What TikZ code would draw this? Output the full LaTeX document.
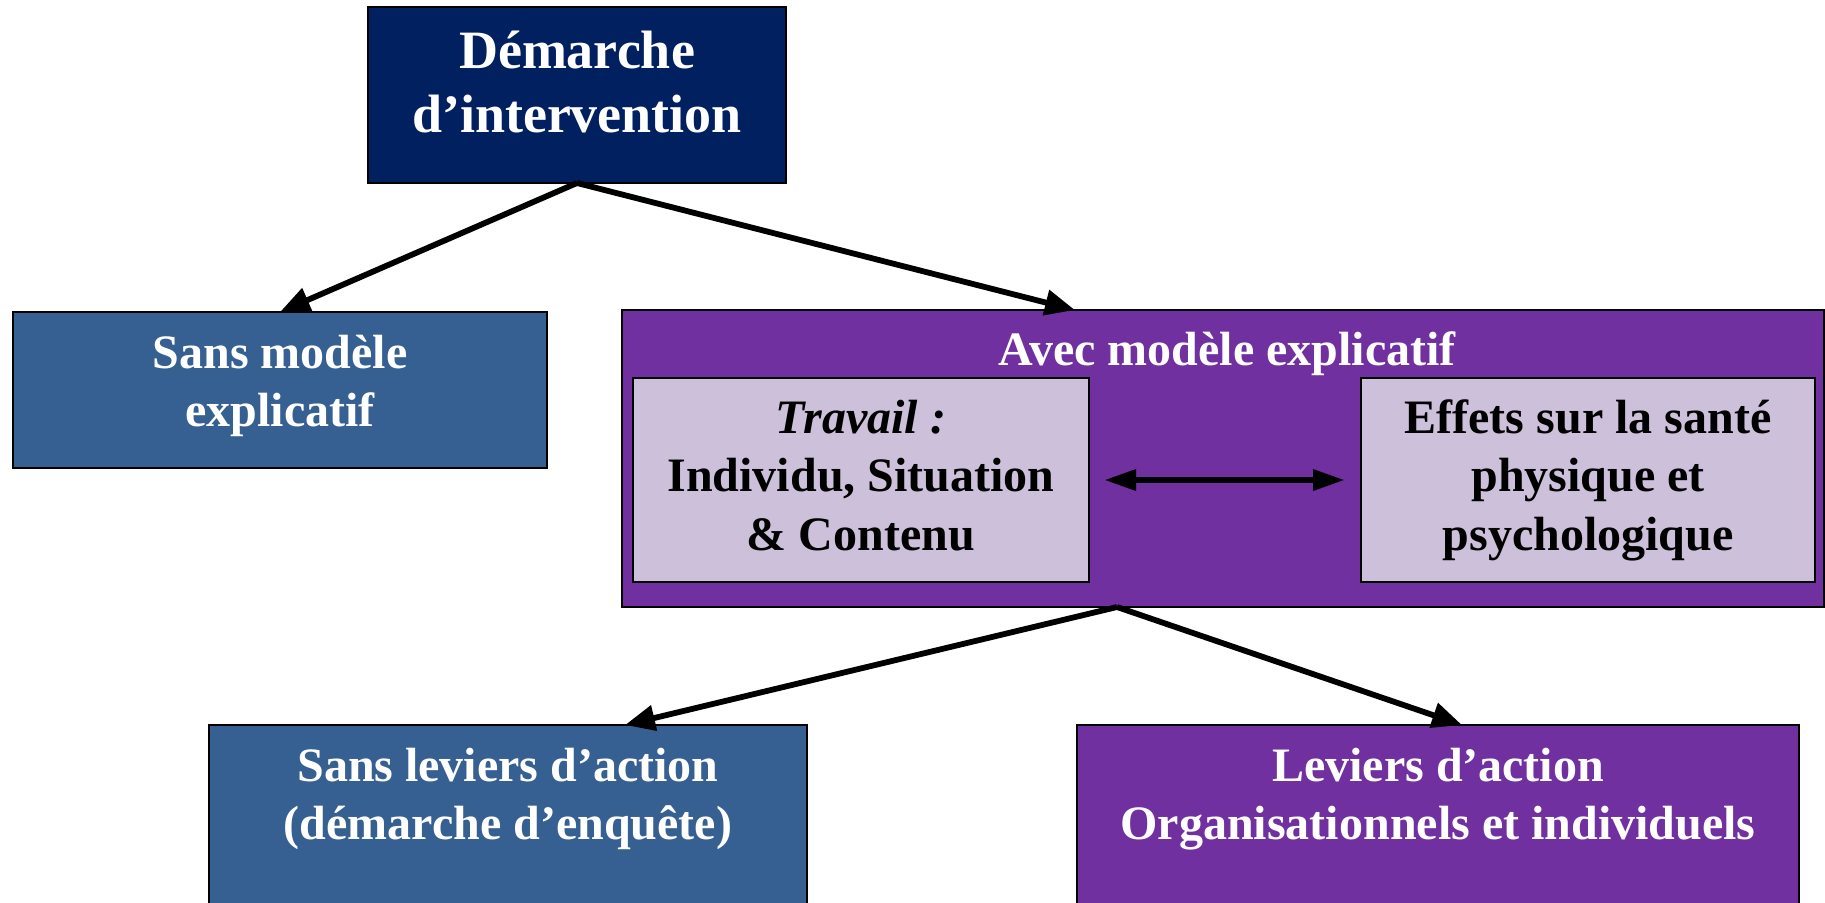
\documentclass[tikz,border=0pt]{standalone}
\usepackage{fontspec}
\setmainfont{Liberation Serif}
\usetikzlibrary{arrows.meta}
\definecolor{navy}{RGB}{0,32,96}
\definecolor{steel}{RGB}{55,96,146}
\definecolor{violetbox}{RGB}{112,48,160}
\definecolor{lav}{RGB}{204,192,218}
\newcommand{\mlines}[1]{\begin{tabular}[t]{@{}c@{}}#1\end{tabular}}
\begin{document}
\begin{tikzpicture}[x=0.5pt,y=-0.5pt,
  box/.style={draw=black,line width=1pt,inner sep=0pt,outer sep=0pt},
  txt/.style={inner sep=0pt,outer sep=0pt,anchor=base,font=\bfseries\fontsize{24}{29.25}\selectfont},
  arr/.style={line width=2.9pt,-{Triangle[length=15pt,width=12.5pt]}},
  dbl/.style={line width=3.2pt,{Triangle[length=16pt,width=10pt]}-{Triangle[length=16pt,width=10pt]}}]
\useasboundingbox (0,0) rectangle (1825,902);
% boxes
\node[box,fill=navy,minimum width=209pt,minimum height=88pt] (top) at (577,95) {};
\node[box,fill=steel,minimum width=267pt,minimum height=78pt] (sans) at (280,390) {};
\node[box,fill=violetbox,minimum width=601pt,minimum height=148.5pt] (avec) at (1223,458.5) {};
\node[box,fill=lav,minimum width=228pt,minimum height=102pt] (travail) at (861,480) {};
\node[box,fill=lav,minimum width=227pt,minimum height=102pt] (effets) at (1588,480) {};
\node[box,fill=steel,minimum width=299pt,minimum height=93.5pt] (sanslev) at (508,818.5) {};
\node[box,fill=violetbox,minimum width=361pt,minimum height=93.5pt] (leviers) at (1438,818.5) {};
% texts
\node[txt,text=white,font=\bfseries\fontsize{27}{32}\selectfont] (ttop) at (577,68) {\mlines{Démarche\\d’intervention}};
\node[txt,text=white] (tsans) at (280,368) {\mlines{Sans modèle\\explicatif}};
\node[txt,text=white] (tavec) at (1227,365) {Avec modèle explicatif};
\node[txt,text=black] (ttravail) at (861,433) {\mlines{\textit{Travail :}\\Individu, Situation\\\& Contenu}};
\node[txt,text=black] (teffets) at (1588,433) {\mlines{Effets sur la santé\\physique et\\psychologique}};
\node[txt,text=white] (tsanslev) at (508,781) {\mlines{Sans leviers d’action\\(démarche d’enquête)}};
\node[txt,text=white] (tleviers) at (1438,781) {\mlines{Leviers d’action\\Organisationnels et individuels}};
% connector ends
\coordinate (avecin) at (1075,310);
\coordinate (avecout) at (1117,607);
\coordinate (sanslevin) at (625,725);
\coordinate (leviersin) at (1462,725);
% connectors
\draw[arr] (top.south) -- (sans.north);
\draw[arr] (top.south) -- (avecin);
\draw[arr] (avecout) -- (sanslevin);
\draw[arr] (avecout) -- (leviersin);
\draw[dbl,shorten <=7.5pt,shorten >=8pt] (travail.east) -- (effets.west);
\end{tikzpicture}
\end{document}
